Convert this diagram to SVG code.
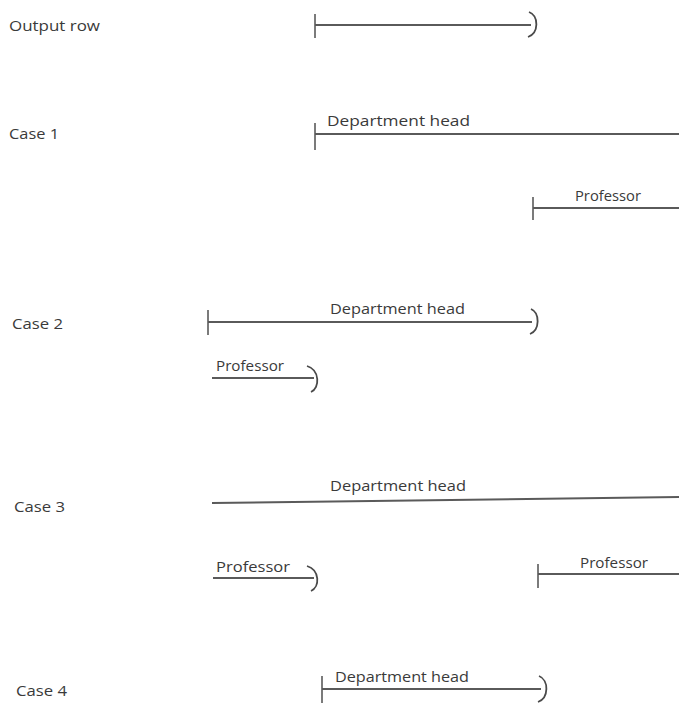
<svg xmlns="http://www.w3.org/2000/svg" width="679" height="704" viewBox="0 0 679 704">
<style>
text{font-family:"Open Sans","Liberation Sans",sans-serif;fill:#3a3a3a;font-size:15px}
.bar{stroke:#5a5a5a;stroke-width:2;fill:none}
.tick{stroke:#5a5a5a;stroke-width:1.6;fill:none}
.end{stroke:#4a4a4a;stroke-width:1.8;fill:none}
</style>
<rect width="679" height="704" fill="#ffffff"/>
<g id="labels">
<text x="9" y="31" textLength="91" lengthAdjust="spacingAndGlyphs">Output row</text>
<text x="9" y="139" textLength="50" lengthAdjust="spacingAndGlyphs">Case 1</text>
<text x="12" y="329" textLength="51" lengthAdjust="spacingAndGlyphs">Case 2</text>
<text x="14" y="512" textLength="51" lengthAdjust="spacingAndGlyphs">Case 3</text>
<text x="16" y="696" textLength="51" lengthAdjust="spacingAndGlyphs">Case 4</text>
</g>
<g id="output-row">
<line class="bar" x1="315" y1="25" x2="531" y2="25"/>
<line class="tick" x1="315" y1="14" x2="315" y2="38"/>
<path class="end" d="M529 12 C539 16 539 33 528 37"/>
</g>
<g id="case1-dept">
<text x="327" y="126" textLength="143" lengthAdjust="spacingAndGlyphs">Department head</text>
<line class="bar" x1="315" y1="134" x2="679" y2="134"/>
<line class="tick" x1="315" y1="123" x2="315" y2="150"/>
</g>
<g id="case1-prof">
<text x="575" y="201" textLength="66" lengthAdjust="spacingAndGlyphs">Professor</text>
<line class="bar" x1="533" y1="208" x2="679" y2="208"/>
<line class="tick" x1="533" y1="197" x2="533" y2="220"/>
</g>
<g id="case2-dept">
<text x="330" y="314" textLength="135" lengthAdjust="spacingAndGlyphs">Department head</text>
<line class="bar" x1="208" y1="322" x2="532" y2="322"/>
<line class="tick" x1="208" y1="310" x2="208" y2="335"/>
<path class="end" d="M531 309 C540 313 540 330 530 334"/>
</g>
<g id="case2-prof">
<text x="216" y="371" textLength="68" lengthAdjust="spacingAndGlyphs">Professor</text>
<line class="bar" x1="212" y1="378" x2="314" y2="378"/>
<path class="end" d="M307 366 C320 370 320 388 311 392"/>
</g>
<g id="case3-dept">
<text x="330" y="491" textLength="136" lengthAdjust="spacingAndGlyphs">Department head</text>
<line class="bar" x1="212" y1="503" x2="679" y2="497"/>
</g>
<g id="case3-prof1">
<text x="216" y="572" textLength="74" lengthAdjust="spacingAndGlyphs">Professor</text>
<line class="bar" x1="213" y1="578" x2="314" y2="578"/>
<path class="end" d="M307 566 C320 570 320 587 311 591"/>
</g>
<g id="case3-prof2">
<text x="580" y="568" textLength="68" lengthAdjust="spacingAndGlyphs">Professor</text>
<line class="bar" x1="538" y1="574" x2="679" y2="574"/>
<line class="tick" x1="538" y1="564" x2="538" y2="588"/>
</g>
<g id="case4-dept">
<text x="335" y="682" textLength="134" lengthAdjust="spacingAndGlyphs">Department head</text>
<line class="bar" x1="322" y1="689" x2="541" y2="689"/>
<line class="tick" x1="322" y1="676" x2="322" y2="703"/>
<path class="end" d="M539 676 C549 680 549 698 538 702"/>
</g>
</svg>
